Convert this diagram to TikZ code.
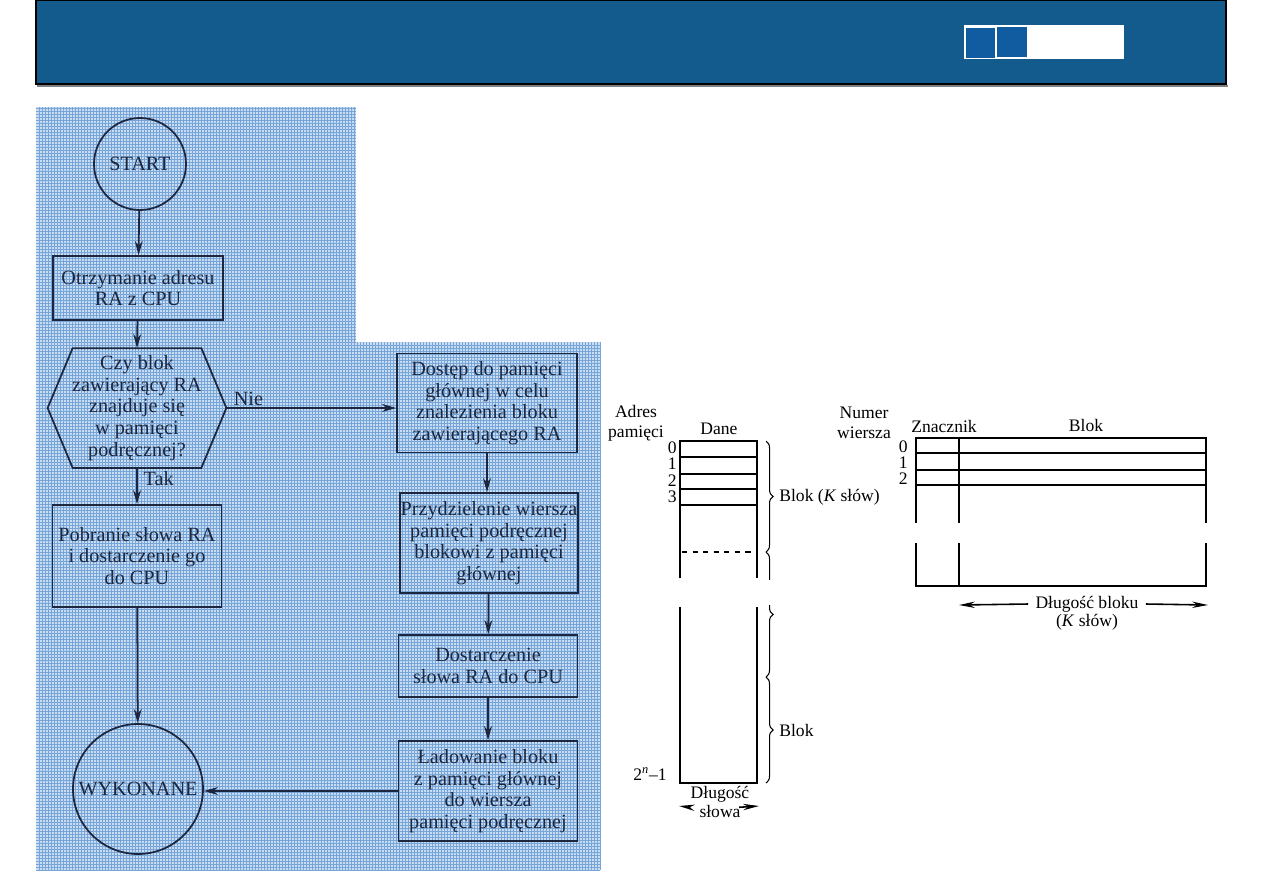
\documentclass[tikz,border=0pt]{standalone}
\usepackage{fontspec}
\setmainfont{Liberation Serif}
\usetikzlibrary{arrows.meta,decorations.pathreplacing}
\definecolor{headblue}{RGB}{19,91,140}
\definecolor{tabblue}{RGB}{17,92,160}
\definecolor{gridbg}{RGB}{200,221,242}
\definecolor{gridln}{RGB}{120,165,215}
\definecolor{ink}{RGB}{28,38,62}
\tikzset{
    block/.style={draw=ink, rectangle, line width=1pt, text=ink, align=center, inner sep=0pt, font=\fontsize{11.5}{12.3}\selectfont},
    term/.style={draw=ink, circle, line width=1pt, text=ink, inner sep=0pt, font=\fontsize{11.5}{12.3}\selectfont},
    arr/.style={-{Stealth[length=8pt,width=4.5pt]}, line width=1pt, ink},
    lbl/.style={inner sep=0pt, align=center, font=\fontsize{10}{11.3}\selectfont},
    arrs/.style={-{Stealth[length=9pt,width=3.6pt]}, line width=0.9pt},
    brc/.style={decorate, decoration={brace, amplitude=4pt}, line width=0.6pt}
}

\begin{document}
\begin{tikzpicture}[x=0.02cm, y=-0.02cm]
        \useasboundingbox (0,0) rectangle (1263,893);

        % --- Header ---
        \fill [headblue] (36,0) rectangle (1226,84);
        \draw [black, line width=1pt] (36,0) rectangle (1226,84);
        \draw [gray, line width=1pt] (37,86) -- (1228,86);
        \fill [white] (964,25) rectangle (1124,59);
        \fill [tabblue] (966,28) rectangle (995,58);
        \fill [tabblue] (997,27) rectangle (1027,57);

        % --- Background of the flowchart ---
        \fill [gridbg] (36,107) rectangle (356,870);
        \fill [gridbg] (325,342) rectangle (600,870);
        \draw [gridln, line width=0.25pt, step=0.06cm] (36,107) grid (356,870);
        \draw [gridln, line width=0.25pt, step=0.06cm] (356,342) grid (600,870);

        % --- Flowchart nodes ---
        \node [term, minimum size=1.84cm] (start) at (140,164) {START};
        \node [block, minimum width=3.4cm, minimum height=1.28cm] (recv) at (138,288) {Otrzymanie adresu\\RA z CPU};
        \node [block, draw=none, minimum width=3.54cm, minimum height=2.36cm] (check) at (137,408)
            {Czy blok\\zawierający RA\\znajduje się\\w pamięci\\podręcznej?};
        \draw [ink, line width=1pt] (check.west) -- ([xshift=0.5cm]check.north west) -- ([xshift=-0.5cm]check.north east)
            -- (check.east) -- ([xshift=-0.5cm]check.south east) -- ([xshift=0.5cm]check.south west) -- cycle;
        \node [block, minimum width=3.38cm, minimum height=2.04cm] (fetch) at (137,556) {Pobranie słowa RA\\i dostarczenie go\\do CPU};
        \node [term, minimum size=2.6cm] (done) at (138,789) {WYKONANE};

        \node [block, minimum width=3.6cm, minimum height=1.98cm] (access) at (487,403) {Dostęp do pamięci\\głównej w celu\\znalezienia bloku\\zawierającego RA};
        \node [block, minimum width=3.56cm, minimum height=2cm] (alloc) at (489,543) {Przydzielenie wiersza\\pamięci podręcznej\\blokowi z pamięci\\głównej};
        \node [block, minimum width=3.58cm, minimum height=1.24cm] (deliver) at (488,666) {Dostarczenie\\słowa RA do CPU};
        \node [block, minimum width=3.58cm, minimum height=2cm] (load) at (488,791) {Ładowanie bloku\\z pamięci głównej\\do wiersza\\pamięci podręcznej};

        % --- Flowchart arrows ---
        \draw [arr] (start) -- (recv);
        \draw [arr] (recv) -- (check.north);
        \draw [arr] (check.south) -- node [right, pos=0.3, text=ink, font=\fontsize{11.5}{12.3}\selectfont] {Tak} (fetch.north);
        \draw [arr] (fetch) -- (done);
        \draw [arr] (check.east) -- node [above, pos=0.13, text=ink, inner sep=1pt, font=\fontsize{11.5}{12.3}\selectfont] {Nie} (check.east -| access.west);
        \draw [arr] (access.south) -- (access.south |- alloc.north);
        \draw [arr] (alloc) -- (deliver);
        \draw [arr] (deliver) -- (load);
        \draw [arr] (load.west) -- (load.west -| done.east);

        % --- Main memory ---
        \begin{scope}[line width=0.8pt]
            \draw (680,578) -- (680,441) -- (757,441) -- (757,578);
            \foreach \y in {457,474,489,505}
                \draw (680,\y) -- (757,\y);
            \draw [dashed] (682,552) -- (755,552);
            \draw (680,607) -- (680,783) -- (757,783) -- (757,607);
        \end{scope}
        \node [lbl] (addr) at (636,423) {Adres\\pamięci};
        \node [lbl] (data) at (719,429) {Dane};
        \foreach \n/\y in {0/448,1/464,2/481,3/497}
            \node [lbl, anchor=east] at (677,\y) {\n};
        \node [lbl, anchor=east] (last) at (667,774) {2\textsuperscript{\itshape n}–1};
        \node [lbl] (wordlen) at (720,802) {Długość\\słowa};
        \coordinate (wlL) at (679,806);
        \coordinate (wlR) at (759,806);
        \draw [arrs] ([yshift=-3pt]wordlen.west) -- (wlL);
        \draw [arrs] ([xshift=-6pt, yshift=-3pt]wordlen.east) -- (wlR);

        % --- Braces ---
        \draw [brc] (766,441) -- (766,552);
        \draw [brc] (766,552) -- (766,677);
        \draw [brc] (766,677) -- (766,783);
        \fill [white] (758,580) rectangle (782,605);
        \node [lbl, anchor=west] (blk1) at (779,497) {Blok (\textit{K} słów)};
        \node [lbl, anchor=west] (blk2) at (779,730) {Blok};

        % --- Cache ---
        \begin{scope}[line width=0.8pt]
            \draw (916,523) -- (916,438) -- (1206,438) -- (1206,523);
            \foreach \y in {453,470,485}
                \draw (916,\y) -- (1206,\y);
            \draw (959,438) -- (959,523);
            \draw (916,543) -- (916,586) -- (1206,586) -- (1206,543);
            \draw (959,543) -- (959,586);
        \end{scope}
        \node [lbl] (line) at (864,423) {Numer\\wiersza};
        \node [lbl] (tag) at (944,426) {Znacznik};
        \node [lbl] (blk) at (1086,425) {Blok};
        \foreach \n/\y in {0/447,1/463,2/479}
            \node [lbl, anchor=east] at (908,\y) {\n};
        \node [lbl, inner xsep=4pt] (blen) at (1087,604) {Długość bloku};
        \node [lbl] (bk) at (1087,622) {(\textit{K} słów)};
        \coordinate (blL) at (959,605);
        \coordinate (blR) at (1208,605);
        \draw [arrs] (blen.west) -- (blL);
        \draw [arrs] (blen.east) -- (blR);

    \end{tikzpicture}
\end{document}
